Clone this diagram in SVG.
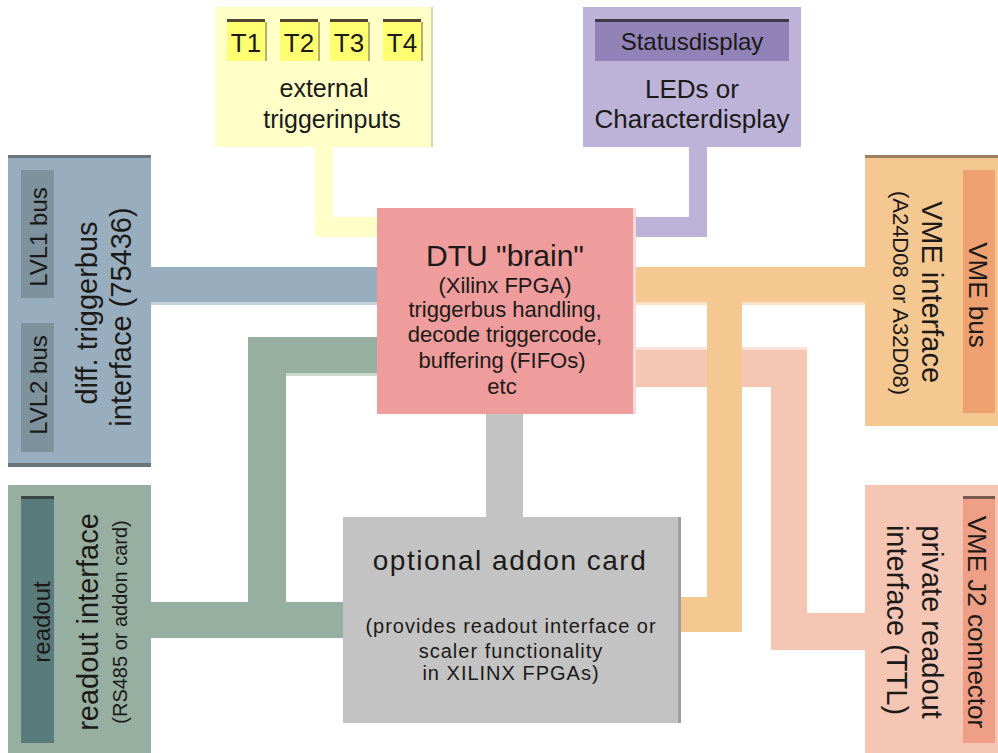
<svg xmlns="http://www.w3.org/2000/svg" width="998" height="753" viewBox="0 0 998 753">
<style>
text{font-family:"Liberation Sans",Arial,sans-serif;fill:#1c1a18;text-anchor:middle}
.t26{font-size:26px}.t25{font-size:25px}.t24{font-size:24px}.t29{font-size:29px}.t22{font-size:22px}.t20{font-size:20px}
.tbox{fill:#FFFF72}
.tline{fill:#4E4632}
.tsh{fill:#B8B06A}
</style>
<rect width="998" height="753" fill="#FFFFFF"/>
<g id="connectors">
  <rect x="151" y="267" width="226" height="35" fill="#98AEBE"/>
  <rect x="151" y="302" width="226" height="3" fill="#C6D3DC"/>
  <path d="M315 147H333V217H377V237H315Z" fill="#FFFFC8"/>
  <path d="M689 147H707V237H633V217H689Z" fill="#BDB3D8"/>
  <path d="M248 337H377V373H286V602H343V638H151V602H248Z" fill="#97AFA0"/>
  <rect x="286" y="373" width="91" height="3" fill="#CBD8CF"/>
  <rect x="486" y="414" width="37" height="103" fill="#C3C3C3"/>
  <path d="M633 350H807V613H865V650H771V387H633Z" fill="#F5C6B4"/>
  <rect x="633" y="347" width="174" height="3" fill="#FAE2D8"/>
  <path d="M633 267H865V302H742V632H680V597H707V302H633Z" fill="#F5C891"/>
  <rect x="633" y="302" width="74" height="3" fill="#FAE2C6"/>
  <rect x="742" y="302" width="123" height="3" fill="#FAE2C6"/>
</g>
<g id="node-triggerinputs">
  <rect x="215" y="7" width="216" height="140" fill="#FFFFC8"/>
  <rect x="431" y="7" width="2" height="140" fill="#D8D8B0"/>
  <rect x="227" y="19" width="38" height="42" class="tbox"/><rect x="227" y="19" width="38" height="3" class="tline"/><rect x="265" y="22" width="2" height="39" class="tsh"/>
  <rect x="280" y="19" width="38" height="42" class="tbox"/><rect x="280" y="19" width="38" height="3" class="tline"/><rect x="318" y="22" width="2" height="39" class="tsh"/>
  <rect x="330" y="19" width="38" height="42" class="tbox"/><rect x="330" y="19" width="38" height="3" class="tline"/><rect x="368" y="22" width="2" height="39" class="tsh"/>
  <rect x="383" y="19" width="38" height="42" class="tbox"/><rect x="383" y="19" width="38" height="3" class="tline"/><rect x="421" y="22" width="2" height="39" class="tsh"/>
  <text x="246" y="52" class="t26">T1</text>
  <text x="299" y="52" class="t26">T2</text>
  <text x="349" y="52" class="t26">T3</text>
  <text x="402" y="52" class="t26">T4</text>
  <text x="324" y="97" class="t25">external</text>
  <text x="332" y="128" class="t25">triggerinputs</text>
</g>
<g id="node-statusdisplay">
  <rect x="583" y="7" width="218" height="140" fill="#BDB3D8"/>
  <rect x="595" y="19" width="194" height="42" fill="#9182B8"/>
  <rect x="595" y="19" width="194" height="3" fill="#3E3A48"/>
  <text x="692" y="50" class="t24">Statusdisplay</text>
  <text x="692" y="98" class="t26">LEDs or</text>
  <text x="692" y="128" class="t26">Characterdisplay</text>
</g>
<g id="node-triggerbus">
  <rect x="8" y="155" width="143" height="312" fill="#98AEBE"/>
  <rect x="8" y="155" width="143" height="3" fill="#6A747C"/>
  <rect x="8" y="463" width="143" height="4" fill="#6A747C"/>
  <rect x="21" y="170" width="33" height="128" fill="#7E929E"/>
  <rect x="21" y="323" width="33" height="129" fill="#7E929E"/>
  <text class="t24" transform="translate(47,237) rotate(-90)">LVL1 bus</text>
  <text class="t24" transform="translate(47,385) rotate(-90)">LVL2 bus</text>
  <text class="t29" transform="translate(97,313) rotate(-90)">diff. triggerbus</text>
  <text class="t29" transform="translate(131,317) rotate(-90)">interface (75436)</text>
</g>
<g id="node-readout">
  <rect x="8" y="485" width="143" height="268" fill="#97AFA0"/>
  <rect x="21" y="496" width="33" height="247" fill="#5A7B7B"/>
  <rect x="21" y="496" width="33" height="3" fill="#384644"/>
  <text class="t24" transform="translate(50,622) rotate(-90)">readout</text>
  <text class="t29" transform="translate(98,622) rotate(-90)">readout interface</text>
  <text class="t20" transform="translate(127,622) rotate(-90)">(RS485 or addon card)</text>
</g>
<g id="node-dtu">
  <rect x="377" y="208" width="256" height="206" fill="#EE9C9C"/>
  <rect x="633" y="208" width="3" height="206" fill="#F4DADA"/>
  <text x="505" y="266" style="font-size:30px">DTU "brain"</text>
  <text x="505" y="293" class="t22">(Xilinx FPGA)</text>
  <text x="505" y="317" class="t22">triggerbus handling,</text>
  <text x="505" y="342" class="t22">decode triggercode,</text>
  <text x="502" y="368" class="t22">buffering (FIFOs)</text>
  <text x="502" y="394" class="t22">etc</text>
</g>
<g id="node-vme">
  <rect x="865" y="155" width="133" height="271" fill="#F5C891"/>
  <rect x="865" y="155" width="133" height="3" fill="#9C7E60"/>
  <rect x="963" y="170" width="32" height="243" fill="#EFA070"/>
  <text class="t26" transform="translate(969,295) rotate(90)">VME bus</text>
  <text class="t29" transform="translate(922,292) rotate(90)">VME interface</text>
  <text class="t22" transform="translate(893,293) rotate(90)">(A24D08 or A32D08)</text>
</g>
<g id="node-private">
  <rect x="865" y="485" width="133" height="268" fill="#F5C6B4"/>
  <rect x="963" y="496" width="32" height="247" fill="#EF9F86"/>
  <rect x="963" y="496" width="32" height="3" fill="#7A5A50"/>
  <text class="t26" transform="translate(968,622) rotate(90)">VME J2 connector</text>
  <text class="t29" transform="translate(922,622) rotate(90)">private readout</text>
  <text class="t29" transform="translate(887,620) rotate(90)">interface (TTL)</text>
</g>
<g id="node-addon">
  <rect x="343" y="517" width="335" height="206" fill="#C3C3C3"/>
  <rect x="678" y="517" width="3" height="206" fill="#A0A0A0"/>
  <text x="510" y="570" style="font-size:28px;letter-spacing:1.5px">optional addon card</text>
  <text x="511" y="633" class="t20" style="letter-spacing:1px">(provides readout interface or</text>
  <text x="511" y="658" class="t20" style="letter-spacing:1px">scaler functionality</text>
  <text x="511" y="680" class="t20" style="letter-spacing:1px">in XILINX FPGAs)</text>
</g>
</svg>
